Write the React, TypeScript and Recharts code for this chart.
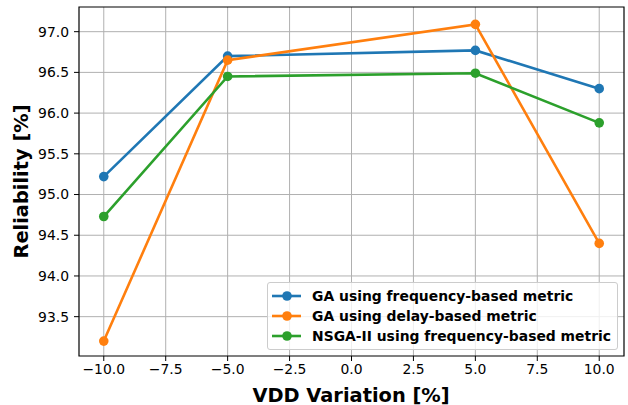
import React from 'react';
import { LineChart, Line, XAxis, YAxis, CartesianGrid, ReferenceArea } from 'recharts';

const vddVariation = [-10, -5, 5, 10];
const gaFrequency = [95.22, 96.70, 96.77, 96.30];
const gaDelay = [93.20, 96.65, 97.09, 94.40];
const nsgaFrequency = [94.73, 96.45, 96.49, 95.88];
const xTicks = [-10, -7.5, -5, -2.5, 0, 2.5, 5, 7.5, 10];
const yTicks = [93.5, 94.0, 94.5, 95.0, 95.5, 96.0, 96.5, 97.0];
const seriesNames = [
  'GA using frequency-based metric',
  'GA using delay-based metric',
  'NSGA-II using frequency-based metric',
];
const colors = ['#1f77b4', '#ff7f0e', '#2ca02c'];
const xDomain = [-11, 11];
const yDomain = [93.017, 97.303];

const data = vddVariation.map((x, i) => ({
  x,
  gaF: gaFrequency[i],
  gaD: gaDelay[i],
  nsga: nsgaFrequency[i],
}));

const FONT = 'DejaVu Sans';
const fmt = (v: number) => (v < 0 ? '\u2212' : '') + Math.abs(v).toFixed(1);

const LegendBox = () => (
  <div
    style={{
      position: 'absolute',
      left: 267,
      top: 282,
      width: 351,
      height: 68,
      boxSizing: 'border-box',
      background: 'rgba(255,255,255,0.8)',
      border: '1px solid #cccccc',
      borderRadius: 3,
      paddingTop: 3,
    }}
  >
    {seriesNames.map((n, i) => (
      <div key={n} style={{ display: 'flex', alignItems: 'center', height: 20 }}>
        <svg width={44} height={20} style={{ flex: 'none' }}>
          <line x1={4} x2={33} y1={10} y2={10} stroke={colors[i]} strokeWidth={2.6} />
          <circle cx={19} cy={10} r={4.8} fill={colors[i]} />
        </svg>
        <span
          style={{
            fontFamily: FONT,
            fontWeight: 'bold',
            fontSize: 13.9,
            color: '#000',
            whiteSpace: 'nowrap',
            lineHeight: '20px',
          }}
        >
          {n}
        </span>
      </div>
    ))}
  </div>
);

export default function App() {
  return (
    <div style={{ position: 'absolute', left: 0, top: 0, width: 628, height: 405 }}>
      <LineChart
        width={628}
        height={405}
        data={data}
        margin={{ top: 7, right: 4, bottom: 0, left: 0 }}
        style={{ fontFamily: FONT }}
      >
        <CartesianGrid stroke="#b0b0b0" strokeWidth={1} horizontalValues={yTicks} verticalValues={xTicks} />
        <XAxis
          dataKey="x"
          type="number"
          domain={xDomain}
          ticks={xTicks}
          tickFormatter={fmt}
          allowDataOverflow
          height={49}
          tickSize={5}
          tickMargin={3}
          tick={{ fill: '#000', fontSize: 13.9, fontFamily: FONT }}
          axisLine={false}
          tickLine={{ stroke: '#000' }}
          label={() => (
            <text
              x={351}
              y={401.5}
              textAnchor="middle"
              fontFamily={FONT}
              fontWeight="bold"
              fontSize={19.4}
              fill="#000"
            >
              VDD Variation [%]
            </text>
          )}
        />
        <YAxis
          type="number"
          domain={yDomain}
          ticks={yTicks}
          tickFormatter={(v: number) => v.toFixed(1)}
          allowDataOverflow
          width={79}
          tickSize={5}
          tickMargin={5}
          tick={{ fill: '#000', fontSize: 13.9, fontFamily: FONT }}
          axisLine={false}
          tickLine={{ stroke: '#000' }}
          label={() => (
            <text
              x={28}
              y={181.5}
              transform="rotate(-90 28 181.5)"
              textAnchor="middle"
              fontFamily={FONT}
              fontWeight="bold"
              fontSize={19.4}
              fill="#000"
            >
              Reliability [%]
            </text>
          )}
        />
        <ReferenceArea
          x1={xDomain[0]}
          x2={xDomain[1]}
          y1={yDomain[0]}
          y2={yDomain[1]}
          fill="none"
          fillOpacity={0}
          stroke="#000"
          strokeWidth={1.2}
          ifOverflow="visible"
        />
        <Line
          dataKey="gaF"
          name={seriesNames[0]}
          stroke={colors[0]}
          strokeWidth={2.6}
          dot={{ r: 4.8, fill: colors[0], stroke: colors[0], strokeWidth: 0 }}
          isAnimationActive={false}
        />
        <Line
          dataKey="gaD"
          name={seriesNames[1]}
          stroke={colors[1]}
          strokeWidth={2.6}
          dot={{ r: 4.8, fill: colors[1], stroke: colors[1], strokeWidth: 0 }}
          isAnimationActive={false}
        />
        <Line
          dataKey="nsga"
          name={seriesNames[2]}
          stroke={colors[2]}
          strokeWidth={2.6}
          dot={{ r: 4.8, fill: colors[2], stroke: colors[2], strokeWidth: 0 }}
          isAnimationActive={false}
        />
      </LineChart>
      <LegendBox />
    </div>
  );
}
